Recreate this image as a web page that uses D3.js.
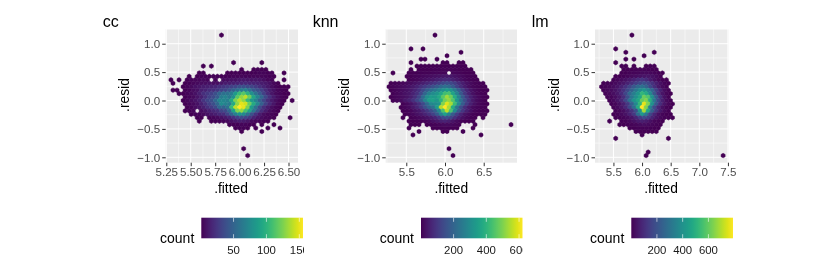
<!DOCTYPE html>
<html>
<head>
<meta charset="utf-8">
<script src="https://cdn.jsdelivr.net/npm/d3@7"></script>
<style>
html, body { margin: 0; background: #fff; }
svg { display: block; filter: blur(0.35px); }
text { font-family: "Liberation Sans", Arial, sans-serif; }
</style>
</head>
<body>
<div id="chart"></div>
<script>
// hex bins: [row, first column, counts...], 0 = empty bin
const ccBins = [
  [19, -5, [1]],
  [11, -2, [1, 0, 0, 0, 0, 0, 0, 1]],
  [10, -9, [1, 0, 1]],
  [9, 0, [1, 0, 0, 1, 2, 1, 1]],
  [8, -10, [1, 1, 0, 0, 0, 0, 0, 1, 1, 2, 1, 1, 1, 1, 2, 3, 3, 2, 2, 0, 0, 1]],
  [7, -13, [1, 0, 1, 2, 2, 1, 2, 2, 1, 2, 2, 3, 3, 4, 3, 3, 4, 4, 4, 3, 2, 1]],
  [6, -17, [1, 0, 1, 0, 1, 3, 4, 4, 5, 3, 0, 3, 0, 6, 6, 8, 8, 10, 11, 10, 9, 10, 9, 7, 4, 3, 0, 0, 1]],
  [5, -17, [1, 0, 0, 1, 2, 4, 5, 6, 7, 8, 7, 7, 10, 12, 13, 14, 15, 17, 18, 17, 16, 15, 13, 11, 8, 4, 1]],
  [4, -14, [1, 3, 5, 8, 10, 13, 14, 15, 17, 21, 24, 27, 30, 33, 38, 38, 36, 32, 27, 21, 16, 11, 6, 3, 1, 1, 1]],
  [3, -17, [1, 1, 0, 2, 3, 6, 8, 14, 16, 20, 22, 25, 31, 34, 40, 48, 55, 65, 70, 58, 45, 38, 30, 20, 13, 8, 4, 3, 1]],
  [2, -15, [1, 1, 3, 5, 8, 14, 22, 26, 30, 38, 50, 58, 58, 65, 85, 105, 115, 100, 78, 60, 45, 30, 18, 10, 5, 3, 1, 1]],
  [1, -14, [1, 3, 5, 9, 14, 22, 30, 36, 45, 65, 70, 62, 78, 115, 130, 140, 120, 92, 70, 52, 34, 21, 12, 6, 3, 1]],
  [0, -14, [1, 4, 6, 9, 14, 24, 32, 38, 52, 72, 72, 68, 92, 125, 140, 130, 105, 85, 70, 48, 34, 20, 12, 7, 3, 1, 0, 1]],
  [-1, -14, [1, 3, 5, 8, 14, 22, 30, 38, 52, 75, 70, 65, 95, 130, 150, 145, 120, 95, 72, 48, 30, 18, 10, 4, 1]],
  [-2, -13, [1, 3, 6, 9, 14, 22, 28, 36, 52, 50, 58, 105, 140, 155, 150, 125, 85, 60, 36, 21, 12, 7, 3, 1]],
  [-3, -14, [1, 2, 4, 0, 6, 9, 14, 18, 22, 32, 36, 52, 90, 125, 130, 110, 90, 62, 40, 22, 13, 7, 4, 1]],
  [-4, -12, [1, 3, 3, 5, 8, 11, 14, 18, 21, 32, 50, 68, 80, 75, 58, 40, 24, 13, 7, 4, 3, 1]],
  [-5, -11, [1, 1, 0, 2, 3, 5, 8, 11, 15, 22, 30, 36, 32, 26, 16, 9, 6, 4, 3, 1, 0, 0, 0, 1]],
  [-6, -10, [1, 0, 0, 1, 2, 2, 3, 5, 8, 11, 14, 12, 10, 6, 4, 3, 2, 1]],
  [-7, -3, [1, 2, 2, 3, 3, 2, 1, 0, 1, 0, 0, 1]],
  [-8, -1, [1, 2, 2, 1, 0, 1, 0, 0, 1, 0, 0, 1]],
  [-9, 0, [1, 0, 0, 0, 0, 1]],
  [-14, 1, [1]],
  [-16, 2, [1]]
];

const knnBins = [
  [19, -3, [1]],
  [15, -9, [1, 0, 0, 1]],
  [14, 4, [1]],
  [13, 0, [1]],
  [12, -6, [1, 1, 0, 0, 1]],
  [11, -9, [1, 0, 0, 0, 0, 0, 0, 0, 1, 1, 0, 0, 1, 1]],
  [10, -7, [1, 1, 1, 1, 1, 2, 2, 3, 2, 1, 1, 2, 1]],
  [9, -9, [1, 0, 1, 2, 2, 3, 4, 5, 6, 6, 6, 5, 3, 2, 2, 1]],
  [8, -13, [1, 0, 0, 0, 1, 2, 3, 4, 6, 8, 9, 11, 13, 12, 0, 13, 9, 6, 3, 2, 1]],
  [7, -10, [1, 3, 6, 10, 14, 18, 22, 27, 32, 36, 40, 38, 30, 22, 14, 8, 4, 2]],
  [6, -9, [3, 7, 13, 18, 26, 34, 42, 52, 62, 72, 70, 56, 40, 26, 15, 8, 4, 2]],
  [5, -14, [1, 4, 8, 12, 16, 20, 28, 38, 50, 64, 80, 95, 112, 130, 145, 135, 110, 78, 50, 30, 16, 8, 4, 1]],
  [4, -14, [1, 6, 11, 16, 22, 30, 42, 58, 82, 105, 125, 150, 175, 205, 225, 210, 170, 120, 78, 45, 25, 12, 6, 3, 1]],
  [3, -14, [3, 9, 15, 22, 30, 42, 60, 88, 130, 180, 215, 245, 275, 310, 340, 320, 260, 185, 115, 65, 34, 17, 8, 3, 1]],
  [2, -13, [4, 12, 18, 28, 38, 58, 85, 130, 200, 265, 300, 325, 370, 430, 440, 360, 270, 170, 100, 55, 26, 12, 5, 2]],
  [1, -14, [3, 9, 14, 22, 32, 48, 78, 125, 210, 300, 340, 335, 370, 460, 530, 480, 380, 270, 170, 100, 55, 28, 14, 5, 1]],
  [0, -13, [4, 11, 20, 38, 55, 85, 125, 180, 270, 345, 350, 330, 400, 490, 520, 450, 330, 225, 145, 85, 42, 20, 9, 3]],
  [-1, -11, [5, 14, 30, 52, 85, 135, 210, 290, 300, 320, 500, 590, 540, 420, 290, 180, 105, 55, 26, 12, 5, 1]],
  [-2, -11, [3, 10, 20, 38, 62, 100, 150, 200, 235, 340, 550, 620, 540, 380, 240, 145, 80, 40, 20, 9, 4, 1]],
  [-3, -11, [2, 6, 13, 26, 42, 68, 100, 140, 185, 280, 440, 560, 440, 290, 170, 100, 55, 28, 12, 5, 2, 1]],
  [-4, -10, [3, 8, 15, 26, 40, 60, 85, 120, 170, 270, 350, 275, 180, 110, 62, 32, 16, 7, 3, 1, 1]],
  [-5, -11, [1, 0, 3, 7, 14, 22, 32, 46, 62, 95, 135, 150, 125, 85, 50, 26, 12, 5, 2, 0, 1]],
  [-6, -9, [1, 3, 5, 8, 13, 20, 28, 40, 55, 62, 52, 34, 20, 10, 5, 2, 1]],
  [-7, -9, [1, 1, 1, 0, 2, 5, 8, 12, 16, 20, 16, 11, 6, 0, 0, 0, 1]],
  [-7, 16, [1]],
  [-8, -9, [1, 0, 0, 0, 0, 0, 2, 3, 5, 6, 5, 3, 2, 0, 0, 0, 1]],
  [-9, -7, [1, 0, 0, 0, 0, 0, 1, 1, 0, 0, 0, 1]],
  [-10, -8, [1]],
  [-10, 9, [1]],
  [-14, 1, [1]],
  [-16, 2, [1]]
];

const lmBins = [
  [19, -3, [1]],
  [15, -7, [1]],
  [14, -4, [1, 0, 0, 0, 0, 0, 0, 1]],
  [13, 0, [1]],
  [12, -4, [1, 0, 1]],
  [11, -7, [1]],
  [10, -5, [1, 1, 0, 1, 0, 0, 1, 2, 1]],
  [9, -5, [1, 2, 4, 7, 9, 9, 7, 4, 2]],
  [8, -5, [2, 4, 8, 12, 16, 20, 22, 18, 11, 5, 2]],
  [7, -7, [1, 3, 7, 12, 20, 28, 36, 42, 45, 38, 25, 10]],
  [6, -7, [6, 14, 24, 36, 52, 72, 100, 120, 95, 60, 34, 15, 6, 2]],
  [5, -10, [3, 7, 12, 20, 32, 50, 72, 105, 140, 170, 190, 165, 115, 70, 34, 12, 3]],
  [4, -10, [3, 9, 16, 26, 44, 72, 110, 160, 215, 265, 290, 250, 170, 105, 52, 20, 5]],
  [3, -10, [6, 14, 24, 40, 66, 110, 170, 240, 310, 380, 420, 360, 260, 150, 75, 28, 8]],
  [2, -9, [6, 16, 30, 52, 95, 170, 270, 340, 410, 520, 480, 370, 220, 110, 42, 14, 3]],
  [1, -9, [5, 13, 28, 52, 100, 190, 310, 390, 470, 610, 570, 400, 230, 105, 38, 10]],
  [0, -8, [6, 22, 46, 90, 170, 300, 400, 470, 600, 640, 500, 320, 170, 70, 25, 6]],
  [-1, -8, [5, 16, 32, 66, 130, 240, 370, 520, 760, 640, 400, 220, 105, 42, 14, 3]],
  [-2, -7, [10, 22, 46, 90, 170, 280, 480, 791, 640, 350, 180, 85, 34, 10, 3]],
  [-3, -7, [5, 14, 30, 62, 115, 190, 400, 680, 470, 240, 125, 56, 20, 6]],
  [-4, -7, [3, 10, 20, 40, 75, 130, 270, 420, 320, 170, 85, 34, 12, 4, 1]],
  [-5, -7, [1, 5, 11, 24, 44, 80, 135, 175, 140, 80, 40, 18, 7, 2, 1]],
  [-6, -8, [1, 0, 0, 5, 10, 20, 36, 58, 70, 58, 36, 16, 8, 3]],
  [-7, -6, [1, 2, 5, 9, 16, 24, 30, 25, 16, 8, 3]],
  [-8, -3, [1, 4, 8, 10, 10, 5, 2, 1]],
  [-9, -2, [1, 2, 2, 1, 1, 1]],
  [-10, 0, [1]],
  [-11, -7, [1]],
  [-11, 6, [1]],
  [-15, 1, [1]],
  [-16, 1, [1]],
  [-16, 20, [1]]
];

const panelNames = ['cc', 'knn', 'lm'];
const ccXTicks = [5.25, 5.5, 5.75, 6, 6.25, 6.5];
const knnXTicks = [5.5, 6, 6.5];
const lmXTicks = [5.5, 6, 6.5, 7, 7.5];
const yTicks = [-1, -0.5, 0, 0.5, 1];
const ccCountTicks = [50, 100, 150];
const knnCountTicks = [200, 400, 600];
const lmCountTicks = [200, 400, 600];

const width = 830;
const height = 277;
const svg = d3.select('#chart').append('svg')
  .attr('width', width)
  .attr('height', height);
const defs = svg.append('defs');

const panelTop = 29;
const panelBottom = 162.7;
const binHeight = 0.0606;

function drawHexes(g, x, y, bins, binWidth, color) {
  const side = binHeight * 2 / 3;
  const cells = [];
  bins.forEach(([row, first, counts]) => {
    counts.forEach((count, i) => {
      if (count === 0) return;
      const col = first + i + (Math.abs(row) % 2 === 1 ? 0.5 : 0);
      cells.push({ cx: 6 + col * binWidth, cy: row * binHeight, count: count });
    });
  });
  const hexPath = d => {
    const p = d3.path();
    p.moveTo(x(d.cx), y(d.cy + side));
    p.lineTo(x(d.cx + binWidth / 2), y(d.cy + side / 2));
    p.lineTo(x(d.cx + binWidth / 2), y(d.cy - side / 2));
    p.lineTo(x(d.cx), y(d.cy - side));
    p.lineTo(x(d.cx - binWidth / 2), y(d.cy - side / 2));
    p.lineTo(x(d.cx - binWidth / 2), y(d.cy + side / 2));
    p.closePath();
    return p.toString();
  };
  g.selectAll('.hex')
    .data(cells)
    .enter()
    .append('path')
    .attr('class', 'hex')
    .attr('d', hexPath)
    .attr('fill', d => color(d.count))
    .attr('stroke', d => color(d.count))
    .attr('stroke-width', 0.5);
}

function drawPanel(p) {
  const x = d3.scaleLinear().domain(p.xDomain).range([p.left, p.right]);
  const y = d3.scaleLinear().domain([-1.095, 1.259]).range([panelBottom, panelTop]);
  const color = d3.scaleSequential(d3.interpolateViridis).domain(p.countDomain);
  const g = svg.append('g');

  g.append('rect')
    .attr('x', p.left)
    .attr('y', panelTop)
    .attr('width', p.right - p.left)
    .attr('height', panelBottom - panelTop)
    .attr('fill', '#EBEBEB');

  // minor grid sits halfway between the major ticks
  const step = p.xTicks[1] - p.xTicks[0];
  const xMinor = d3.range(p.xTicks[0] - step / 2, p.xDomain[1], step).filter(d => d > p.xDomain[0]);
  const yMinor = d3.range(-1.25, 1.26, 0.5).filter(d => d > -1.095 && d < 1.259);

  g.selectAll('.xminor').data(xMinor).enter().append('line')
    .attr('x1', d => x(d)).attr('x2', d => x(d))
    .attr('y1', panelTop).attr('y2', panelBottom)
    .attr('stroke', '#fff').attr('stroke-width', 0.5);
  g.selectAll('.yminor').data(yMinor).enter().append('line')
    .attr('x1', p.left).attr('x2', p.right)
    .attr('y1', d => y(d)).attr('y2', d => y(d))
    .attr('stroke', '#fff').attr('stroke-width', 0.5);
  g.selectAll('.xmajor').data(p.xTicks).enter().append('line')
    .attr('x1', d => x(d)).attr('x2', d => x(d))
    .attr('y1', panelTop).attr('y2', panelBottom)
    .attr('stroke', '#fff').attr('stroke-width', 1);
  g.selectAll('.ymajor').data(yTicks).enter().append('line')
    .attr('x1', p.left).attr('x2', p.right)
    .attr('y1', d => y(d)).attr('y2', d => y(d))
    .attr('stroke', '#fff').attr('stroke-width', 1);

  drawHexes(g, x, y, p.bins, p.binWidth, color);

  const xAxis = g.append('g')
    .attr('transform', `translate(0, ${panelBottom})`)
    .call(d3.axisBottom(x).tickValues(p.xTicks).tickFormat(d3.format(p.xFormat)).tickSize(3.5).tickPadding(2));
  const yAxis = g.append('g')
    .attr('transform', `translate(${p.left}, 0)`)
    .call(d3.axisLeft(y).tickValues(yTicks).tickFormat(d3.format('.1f')).tickSize(3.5).tickPadding(2));
  [xAxis, yAxis].forEach(a => {
    a.select('.domain').remove();
    a.selectAll('.tick line').attr('stroke', '#333333').attr('stroke-width', 1);
    a.selectAll('.tick text')
      .attr('fill', '#4D4D4D')
      .style('font-size', '11.6px')
      .style('font-family', '"Liberation Sans", Arial, sans-serif');
  });

  g.append('text')
    .attr('x', p.titleX)
    .attr('y', 27.3)
    .attr('font-size', 16)
    .attr('fill', '#000')
    .text(p.name);
  g.append('text')
    .attr('x', p.xTitleX)
    .attr('y', 193.3)
    .attr('text-anchor', 'middle')
    .attr('font-size', 13.8)
    .attr('fill', '#000')
    .text('.fitted');
  g.append('text')
    .attr('transform', `translate(${p.yTitleX}, 95) rotate(-90)`)
    .attr('text-anchor', 'middle')
    .attr('font-size', 13.8)
    .attr('fill', '#000')
    .text('.resid');

  drawLegend(p, color);
}

function drawLegend(p, color) {
  const barTop = 217.7;
  const barBottom = 238.3;
  const scale = d3.scaleLinear().domain(p.countDomain).range([p.legendLeft, p.legendRight]);
  const gradId = 'grad-' + p.name;
  const grad = defs.append('linearGradient').attr('id', gradId);
  d3.range(0, 1.001, 0.05).forEach(t => {
    grad.append('stop')
      .attr('offset', t)
      .attr('stop-color', d3.interpolateViridis(t));
  });
  const clipId = 'clip-' + p.name;
  defs.append('clipPath').attr('id', clipId)
    .append('rect')
    .attr('x', p.legendLeft - 60)
    .attr('y', barTop - 5)
    .attr('width', p.legendClip - p.legendLeft + 60)
    .attr('height', 50);

  const g = svg.append('g');
  g.append('rect')
    .attr('x', p.legendLeft)
    .attr('y', barTop)
    .attr('width', p.legendRight - p.legendLeft)
    .attr('height', barBottom - barTop)
    .attr('fill', `url(#${gradId})`);

  const ticks = g.selectAll('.ctick').data(p.countTicks).enter().append('g').attr('class', 'ctick');
  ticks.append('line')
    .attr('x1', d => scale(d)).attr('x2', d => scale(d))
    .attr('y1', barTop).attr('y2', barTop + 4.1)
    .attr('stroke', '#fff').attr('stroke-width', 0.6);
  ticks.append('line')
    .attr('x1', d => scale(d)).attr('x2', d => scale(d))
    .attr('y1', barBottom - 4.1).attr('y2', barBottom)
    .attr('stroke', '#fff').attr('stroke-width', 0.6);

  g.append('g').attr('clip-path', `url(#${clipId})`)
    .selectAll('text').data(p.countTicks).enter().append('text')
    .attr('x', d => scale(d))
    .attr('y', 254)
    .attr('text-anchor', 'middle')
    .attr('font-size', 11.4)
    .attr('fill', '#1a1a1a')
    .text(d => d);

  g.append('text')
    .attr('x', p.legendLeft - 7)
    .attr('y', 242.7)
    .attr('text-anchor', 'end')
    .attr('font-size', 14)
    .attr('fill', '#000')
    .text('count');
}

drawPanel({
  name: panelNames[0], bins: ccBins, binWidth: 0.0413, xTicks: ccXTicks, xFormat: '.2f',
  xDomain: [5.244, 6.597], left: 165.7, right: 298, countDomain: [1, 155.6], countTicks: ccCountTicks,
  titleX: 102.7, xTitleX: 231, yTitleX: 129, legendLeft: 201.3, legendRight: 303, legendClip: 304
});
drawPanel({
  name: panelNames[1], bins: knnBins, binWidth: 0.0517, xTicks: knnXTicks, xFormat: '.1f',
  xDomain: [5.234, 6.93], left: 385.7, right: 517, countDomain: [1, 621], countTicks: knnCountTicks,
  titleX: 312.7, xTitleX: 451.3, yTitleX: 349, legendLeft: 421, legendRight: 522.5, legendClip: 523
});
drawPanel({
  name: panelNames[2], bins: lmBins, binWidth: 0.0708, xTicks: lmXTicks, xFormat: '.1f',
  xDomain: [5.178, 7.51], left: 595, right: 728.5, countDomain: [1, 791], countTicks: lmCountTicks,
  titleX: 531.7, xTitleX: 661, yTitleX: 559, legendLeft: 631.3, legendRight: 733, legendClip: 760
});
</script>
</body>
</html>
